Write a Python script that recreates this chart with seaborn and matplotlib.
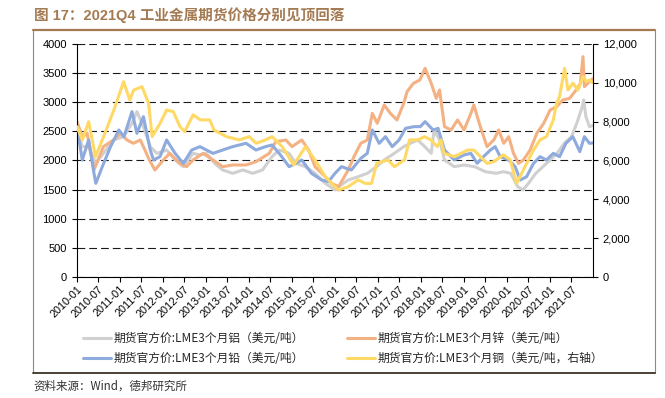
import matplotlib
matplotlib.use("Agg")
import matplotlib.pyplot as plt
import matplotlib.dates as mdates
from matplotlib.lines import Line2D
from matplotlib.ticker import FuncFormatter
import pandas as pd
import seaborn as sns

# ---------------- data ----------------
al_dates = ["2010-01-01", "2010-02-15", "2010-04-10", "2010-06-07", "2010-08-13", "2010-11-07",
            "2011-02-01", "2011-04-13", "2011-05-25", "2011-07-19", "2011-09-15", "2011-11-10",
            "2012-02-01", "2012-04-13", "2012-06-22", "2012-09-13", "2012-11-10", "2013-01-04",
            "2013-03-15", "2013-05-22", "2013-08-15", "2013-11-10", "2014-02-01", "2014-04-25",
            "2014-07-15", "2014-09-13", "2014-12-07", "2015-02-01", "2015-04-25", "2015-07-15",
            "2015-10-10", "2016-01-01", "2016-02-01", "2016-04-22", "2016-07-15", "2016-10-01",
            "2016-12-19", "2017-02-22", "2017-05-19", "2017-08-07", "2017-10-01", "2017-12-04",
            "2018-02-01", "2018-03-28", "2018-04-22", "2018-06-07", "2018-07-19", "2018-10-10",
            "2019-01-01", "2019-04-01", "2019-07-01", "2019-10-01", "2019-12-01", "2020-02-01",
            "2020-04-01", "2020-05-15", "2020-07-01", "2020-09-01", "2020-11-01", "2021-01-01",
            "2021-03-01", "2021-05-01", "2021-07-01", "2021-08-15", "2021-10-01", "2021-10-13",
            "2021-11-01", "2021-12-01", "2021-12-28"]
al_vals = [2524, 2238, 2238, 1951, 2123, 2352,
           2409, 2638, 2839, 2581, 2238, 2123,
           2180, 2009, 1894, 2123, 2095, 2123,
           1951, 1837, 1780, 1837, 1780, 1837,
           2066, 2180, 2123, 1951, 1894, 1780,
           1608, 1494, 1551, 1665, 1722, 1780,
           1894, 2009, 2123, 2238, 2295, 2352,
           2238, 2123, 2524, 2352, 2009, 1894,
           1923, 1894, 1808, 1780, 1808, 1780,
           1551, 1494, 1608, 1780, 1894, 2009,
           2123, 2295, 2409, 2638, 2924, 3039,
           2753, 2581, 2600]

zn_dates = ["2010-01-01", "2010-02-15", "2010-03-28", "2010-05-25", "2010-08-13", "2010-11-07",
            "2011-01-07", "2011-03-01", "2011-04-25", "2011-06-22", "2011-08-01", "2011-09-07",
            "2011-10-25", "2012-01-04", "2012-02-28", "2012-05-22", "2012-07-19", "2012-09-13",
            "2012-12-07", "2013-03-01", "2013-05-22", "2013-08-15", "2013-12-07", "2014-03-01",
            "2014-06-22", "2014-08-15", "2014-11-10", "2015-01-01", "2015-03-25", "2015-05-22",
            "2015-07-15", "2015-10-10", "2015-12-01", "2016-02-01", "2016-04-22", "2016-06-10",
            "2016-08-07", "2016-10-01", "2016-11-13", "2016-12-25", "2017-02-22", "2017-04-15",
            "2017-06-10", "2017-08-07", "2017-09-04", "2017-10-28", "2017-12-22", "2018-02-04",
            "2018-03-28", "2018-05-10", "2018-06-07", "2018-07-19", "2018-09-13", "2018-11-07",
            "2019-01-01", "2019-02-28", "2019-03-25", "2019-05-19", "2019-07-15", "2019-09-10",
            "2019-10-22", "2019-12-04", "2020-01-15", "2020-02-25", "2020-04-07", "2020-05-19",
            "2020-07-15", "2020-09-10", "2020-11-07", "2021-01-01", "2021-02-25", "2021-04-19",
            "2021-06-15", "2021-08-10", "2021-09-15", "2021-10-07", "2021-10-19", "2021-12-01",
            "2021-12-28"]
zn_vals = [2667, 2409, 2467, 1837, 2238, 2352,
           2467, 2352, 2295, 2352, 2180, 2009,
           1837, 2009, 2123, 1951, 1894, 2009,
           2123, 2009, 1894, 1923, 1923, 1980,
           2123, 2323, 2352, 2238, 2352, 2180,
           1894, 1722, 1608, 1551, 1837, 2066,
           2295, 2352, 2810, 2638, 2953, 2810,
           2696, 2982, 3182, 3325, 3382, 3583,
           3325, 3067, 3211, 2581, 2524, 2696,
           2524, 2810, 2953, 2581, 2238, 2352,
           2524, 2295, 2409, 2123, 1951, 2009,
           2180, 2467, 2638, 2867, 2924, 3039,
           3067, 3211, 3325, 3783, 3268, 3354,
           3400]

pb_dates = ["2010-01-01", "2010-02-15", "2010-04-10", "2010-05-25", "2010-06-10", "2010-08-04",
            "2010-10-13", "2010-12-22", "2011-02-04", "2011-04-13", "2011-05-25", "2011-07-19",
            "2011-09-15", "2011-10-13", "2011-12-07", "2012-02-01", "2012-04-13", "2012-06-22",
            "2012-09-01", "2012-11-10", "2013-01-04", "2013-03-01", "2013-05-22", "2013-08-15",
            "2013-12-07", "2014-03-01", "2014-05-22", "2014-07-15", "2014-09-25", "2014-12-07",
            "2015-02-01", "2015-03-25", "2015-06-15", "2015-09-10", "2015-11-07", "2016-01-01",
            "2016-02-25", "2016-05-19", "2016-08-07", "2016-10-01", "2016-11-13", "2017-01-10",
            "2017-03-04", "2017-05-01", "2017-06-28", "2017-08-22", "2017-11-01", "2017-12-25",
            "2018-02-04", "2018-04-13", "2018-05-25", "2018-07-19", "2018-10-10", "2019-01-01",
            "2019-02-28", "2019-04-22", "2019-06-15", "2019-08-13", "2019-09-22", "2019-11-04",
            "2020-01-15", "2020-03-10", "2020-04-22", "2020-06-15", "2020-08-13", "2020-10-07",
            "2020-12-01", "2021-01-28", "2021-03-22", "2021-05-15", "2021-07-13", "2021-09-10",
            "2021-10-19", "2021-12-01", "2021-12-28"]
pb_vals = [2581, 2009, 2352, 1780, 1608, 1894,
           2238, 2524, 2409, 2839, 2467, 2753,
           2180, 2009, 2066, 2352, 2123, 1951,
           2180, 2238, 2180, 2123, 2180, 2238,
           2295, 2180, 2238, 2266, 2095, 1894,
           1951, 2009, 1780, 1665, 1637, 1780,
           1894, 1837, 2037, 2123, 2524, 2295,
           2409, 2238, 2352, 2552, 2581, 2581,
           2667, 2524, 2552, 2180, 2009, 2095,
           2123, 1951, 2066, 2180, 2238, 2066,
           2009, 1894, 1665, 1722, 1951, 2066,
           2009, 2123, 2066, 2295, 2409, 2152,
           2409, 2295, 2300]

cu_dates = ["2010-01-01", "2010-02-15", "2010-04-10", "2010-06-07", "2010-08-15", "2010-11-10",
            "2011-02-01", "2011-03-25", "2011-04-28", "2011-07-07", "2011-09-01", "2011-10-01",
            "2011-12-07", "2012-02-01", "2012-03-28", "2012-05-25", "2012-07-04", "2012-09-13",
            "2012-11-15", "2013-02-01", "2013-03-10", "2013-06-22", "2013-10-10", "2014-01-04",
            "2014-03-01", "2014-05-22", "2014-07-15", "2014-10-10", "2015-01-15", "2015-04-25",
            "2015-07-15", "2015-10-10", "2016-01-01", "2016-02-01", "2016-04-22", "2016-07-15",
            "2016-09-13", "2016-11-07", "2016-12-19", "2017-03-25", "2017-05-19", "2017-08-13",
            "2017-09-25", "2017-12-04", "2018-02-01", "2018-03-25", "2018-05-19", "2018-06-19",
            "2018-07-15", "2018-10-10", "2019-02-01", "2019-03-25", "2019-05-19", "2019-07-15",
            "2019-09-10", "2019-12-01", "2020-01-28", "2020-03-22", "2020-05-04", "2020-06-15",
            "2020-08-13", "2020-10-07", "2020-12-01", "2021-01-28", "2021-02-25", "2021-03-22",
            "2021-05-04", "2021-06-01", "2021-07-13", "2021-08-25", "2021-10-07", "2021-11-04",
            "2021-12-01", "2021-12-28"]
cu_vals = [7740, 7060, 8000, 6200, 7230, 8600,
           10060, 9120, 9630, 9800, 8950, 7230,
           7910, 8600, 8520, 7740, 7490, 8350,
           8090, 8090, 7570, 7230, 7060, 7230,
           6890, 7060, 7230, 6710, 5770, 6710,
           6030, 5170, 4650, 4480, 4650, 5000,
           4820, 4820, 5850, 6030, 5680, 6030,
           7060, 7060, 7230, 7060, 6710, 7060,
           6370, 6200, 6540, 6540, 6200, 5850,
           5940, 6290, 6030, 4820, 5340, 5850,
           6540, 7060, 7230, 8090, 8950, 9290,
           10750, 9630, 9980, 9630, 10320, 10060,
           10150, 10000]

series_names = ["期货官方价:LME3个月铝（美元/吨）",
                "期货官方价:LME3个月铅（美元/吨）",
                "期货官方价:LME3个月锌（美元/吨）",
                "期货官方价:LME3个月铜（美元/吨，右轴）"]
tick_dates = pd.date_range("2010-01-01", "2021-07-01", freq="6MS")
left_ticks = list(range(0, 4001, 500))
right_ticks = list(range(0, 12001, 2000))

title_text = "图 17：2021Q4 工业金属期货价格分别见顶回落"
source_text = "资料来源：Wind，德邦研究所"

# ---------------- style ----------------
sns.set_style("ticks")
plt.rcParams["font.family"] = ["Liberation Sans", "Noto Sans CJK SC", "DejaVu Sans"]

c_al, c_zn, c_pb, c_cu = "#D0D0D0", "#F4B183", "#8FAADC", "#FFD966"
lw = 2.2

fig = plt.figure(figsize=(6.65, 3.98), dpi=100)
W, H = 665, 398
ax = fig.add_axes([77 / W, 1 - 277 / H, (593 - 77) / W, (277 - 44) / H])
ax2 = ax.twinx()

df_al = pd.DataFrame({"date": pd.to_datetime(al_dates), "v": al_vals})
df_zn = pd.DataFrame({"date": pd.to_datetime(zn_dates), "v": zn_vals})
df_pb = pd.DataFrame({"date": pd.to_datetime(pb_dates), "v": pb_vals})
df_cu = pd.DataFrame({"date": pd.to_datetime(cu_dates), "v": cu_vals})

sns.lineplot(data=df_al, x="date", y="v", ax=ax, color=c_al, linewidth=lw)
sns.lineplot(data=df_zn, x="date", y="v", ax=ax, color=c_zn, linewidth=lw)
sns.lineplot(data=df_pb, x="date", y="v", ax=ax, color=c_pb, linewidth=lw)
sns.lineplot(data=df_cu, x="date", y="v", ax=ax2, color=c_cu, linewidth=lw)

ax.set_xlim(pd.Timestamp("2010-01-01"), pd.Timestamp("2021-12-31"))
ax.set_ylim(0, 4000)
ax2.set_ylim(0, 12000)
ax.set_xlabel("")
ax.set_ylabel("")
ax2.set_ylabel("")

ax.set_yticks(left_ticks)
ax2.set_yticks(right_ticks)
ax2.yaxis.set_major_formatter(FuncFormatter(lambda v, p: f"{int(v):,}"))
ax.set_xticks(tick_dates)
ax.xaxis.set_major_formatter(mdates.DateFormatter("%Y-%m"))

ax.set_axisbelow(True)
ax.yaxis.grid(True, linestyle=(0, (7, 3.6)), color="#1a1a1a", linewidth=0.8)
ax.xaxis.grid(False)

for s in ["top", "right"]:
    ax.spines[s].set_visible(False)
for s in ["top", "left", "bottom"]:
    ax2.spines[s].set_visible(False)
for sp in [ax.spines["left"], ax.spines["bottom"], ax2.spines["right"]]:
    sp.set_color("black")
    sp.set_linewidth(0.8)

ax.tick_params(axis="y", direction="out", length=3.6, width=0.8, pad=3.5,
               labelsize=8, colors="black")
ax2.tick_params(axis="y", direction="out", length=3.6, width=0.8, pad=3.5,
                labelsize=8, colors="black")
ax.tick_params(axis="x", direction="out", length=3.6, width=0.8, pad=1.5,
               labelsize=7.8, colors="black")
for lab in ax.get_xticklabels():
    lab.set_rotation(45)
    lab.set_ha("right")
    lab.set_rotation_mode("anchor")

# legend
handles = [Line2D([], [], color=c, linewidth=lw) for c in (c_al, c_pb, c_zn, c_cu)]
fig.legend(handles, series_names, loc="upper left",
           bbox_to_anchor=(83 / W, 1 - 332 / H), ncol=2, frameon=False,
           handlelength=2.4, handletextpad=0.2, columnspacing=3.6,
           labelspacing=0.6, borderpad=0, borderaxespad=0,
           prop={"family": ["Noto Sans CJK SC", "DejaVu Sans"], "size": 8.5})

# title, frame, source
fig.text(34 / W, 1 - 15 / H, title_text, ha="left", va="center", fontsize=10.5,
         fontweight="bold", color="#A47A52")
fig.add_artist(Line2D([33 / W, 655 / W], [1 - 30 / H] * 2, color="#A47A52", linewidth=1.6))
fig.add_artist(Line2D([33 / W, 33 / W], [1 - 30 / H, 1 - 373 / H], color="#8a8a8a", linewidth=0.8))
fig.add_artist(Line2D([655 / W, 655 / W], [1 - 30 / H, 1 - 373 / H], color="#8a8a8a", linewidth=0.8))
fig.add_artist(Line2D([33 / W, 655 / W], [1 - 373 / H] * 2, color="#3b3128", linewidth=1.3))
fig.text(33 / W, 1 - 386 / H, source_text, ha="left", va="center", fontsize=8.3,
         color="#333333", family=["Noto Sans CJK SC", "DejaVu Sans"])

fig.savefig("out.png", dpi=100)
